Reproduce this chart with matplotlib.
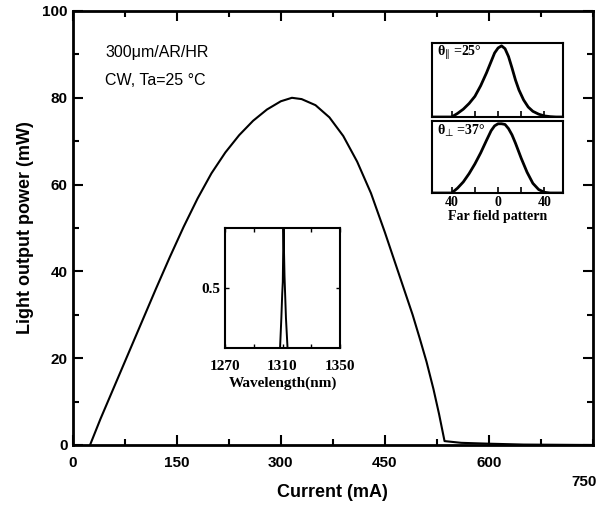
import matplotlib
matplotlib.use("Agg")
import matplotlib.pyplot as plt
from matplotlib.ticker import MultipleLocator

# main L-I curve
current = [25, 40, 60, 80, 100, 120, 140, 160, 180, 200, 220, 240, 260, 280,
           300, 316, 330, 350, 370, 390, 410, 430, 450, 470, 490, 500, 510, 520,
           528, 536, 560, 600, 650, 750]
power = [0, 6, 13.5, 21, 28.5, 36, 43.3, 50.3, 56.8, 62.6, 67.4, 71.4, 74.7, 77.3,
         79.2, 80, 79.7, 78.3, 75.5, 71.2, 65.3, 58, 49, 39.5, 30, 24.7, 19.2, 12.9,
         7.2, 0.9, 0.5, 0.3, 0.1, 0]

# lasing spectrum inset
wavelength = [1270, 1308.3, 1309.2, 1309.8, 1310.2, 1310.7, 1311.4, 1312.4, 1313.5, 1350]
intensity = [0, 0, 0.25, 0.45, 0.55, 1.0, 0.6, 0.25, 0, 0]

# far field patterns
ff_angle_par = [-57, -45, -40, -35, -30, -25, -20, -15, -10, -6, -3, 0, 3, 6, 9,
                12, 15, 18, 22, 26, 30, 35, 40, 45, 50, 56]
ff_par = [0, 0, 0, 0.05, 0.11, 0.19, 0.29, 0.44, 0.62, 0.78, 0.9, 0.97, 1.0,
          0.96, 0.85, 0.69, 0.52, 0.38, 0.24, 0.14, 0.08, 0.04, 0.015, 0.005, 0, 0]
ff_angle_perp = [-57, -45, -40, -35, -30, -25, -20, -15, -10, -6, -3, 0, 3, 6, 9,
                 12, 15, 20, 25, 30, 35, 40, 45, 56]
ff_perp = [0, 0, 0, 0.07, 0.16, 0.28, 0.42, 0.58, 0.76, 0.9, 0.97, 1.0, 1.0,
           0.99, 0.93, 0.84, 0.72, 0.5, 0.3, 0.14, 0.05, 0.01, 0, 0]

W, H = 603, 508
sans = "Liberation Sans"
serif = "Liberation Serif"


def box(l, t, r, b):
    return [l / W, 1 - b / H, (r - l) / W, (b - t) / H]


fig = plt.figure(figsize=(6.03, 5.08), dpi=100)
ax = fig.add_axes(box(72.7, 11, 593, 445))
ax.plot(current, power, color="black", lw=1.5)
ax.set_xlim(0, 750)
ax.set_ylim(0, 100)
ax.set_xticks([0, 150, 300, 450, 600])
ax.xaxis.set_minor_locator(MultipleLocator(75))
ax.yaxis.set_major_locator(MultipleLocator(20))
ax.yaxis.set_minor_locator(MultipleLocator(10))
ax.tick_params(which="both", direction="in", top=True, right=True, width=1.5)
ax.tick_params(which="major", length=7)
ax.tick_params(which="minor", length=4)
for sp in ax.spines.values():
    sp.set_linewidth(2)
for lab in ax.get_xticklabels() + ax.get_yticklabels():
    lab.set_fontfamily(sans)
    lab.set_fontweight("bold")
    lab.set_fontsize(11)
ax.tick_params(axis="x", pad=8)
# the 750 label sits lower and a bit left in the original
ax.text(737, -7, "750", ha="center", va="top", fontfamily=sans,
        fontweight="bold", fontsize=11, clip_on=False)
ax.set_xlabel("Current (mA)", fontfamily=sans, fontweight="bold", fontsize=13, labelpad=10)
ax.set_ylabel("Light output power (mW)", fontfamily=sans, fontweight="bold", fontsize=13, labelpad=6)
ax.text(0.063, 0.905, "300\u03bcm/AR/HR", transform=ax.transAxes, fontfamily=sans,
        fontsize=11.5, va="center")
ax.text(0.063, 0.84, "CW, Ta=25 \u00b0C", transform=ax.transAxes, fontfamily=sans,
        fontsize=11.5, va="center")

# spectrum inset
axs = fig.add_axes(box(225, 228, 340, 348))
axs.plot(wavelength, intensity, color="black", lw=1.4)
axs.set_xlim(1270, 1350)
axs.set_ylim(0, 1)
axs.set_xticks([1270, 1310, 1350])
axs.set_xticks([1290, 1330], minor=True)
axs.set_yticks([0.5])
axs.set_yticklabels(["0.5"])
axs.tick_params(which="both", direction="in", top=True, right=True, length=3, width=1)
axs.tick_params(axis="x", pad=9)
for sp in axs.spines.values():
    sp.set_linewidth(1.5)
for lab in axs.get_xticklabels() + axs.get_yticklabels():
    lab.set_fontfamily(serif)
    lab.set_fontweight("bold")
    lab.set_fontsize(11)
axs.set_xlabel("Wavelength(nm)", fontfamily=serif, fontweight="bold", fontsize=11, labelpad=2)

# far field insets
for t, b, ang, val, lbl, last in [
    (43, 117, ff_angle_par, ff_par, "\u03b8$_{\u2225}$ =25\u00b0", False),
    (121, 193, ff_angle_perp, ff_perp, "\u03b8$_{\u22a5}$ =37\u00b0", True),
]:
    axf = fig.add_axes(box(432, t, 563, b))
    axf.plot(ang, val, color="black", lw=2)
    axf.set_xlim(-57, 56)
    axf.set_ylim(0, 1.04)
    axf.set_xticks([-40, -20, 0, 20, 40])
    axf.set_yticks([])
    axf.tick_params(direction="in", length=4, width=1.2)
    for sp in axf.spines.values():
        sp.set_linewidth(1.5)
    axf.text(0.04, 0.87, lbl, transform=axf.transAxes, fontfamily=serif,
             fontweight="bold", fontsize=10, va="center")
    if last:
        axf.set_xticklabels(["40", "", "0", "", "40"], fontfamily=serif,
                            fontweight="bold", fontsize=10)
        axf.tick_params(axis="x", pad=2)
        axf.set_xlabel("Far field pattern", fontfamily=serif, fontweight="bold",
                       fontsize=10, labelpad=1)
    else:
        axf.set_xticklabels([])

fig.savefig("out.png", dpi=100)
